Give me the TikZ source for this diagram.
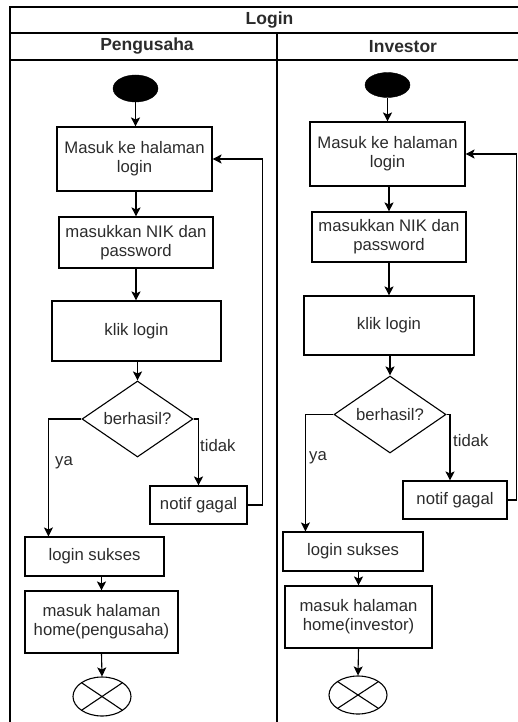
\documentclass[tikz,border=0pt]{standalone}
\usepackage{fontspec}
\setmainfont{Liberation Sans}
\usetikzlibrary{shapes.geometric,arrows.meta}

\definecolor{inkgray}{HTML}{2B2B2B}

\tikzset{
  base/.style={draw, line width=1.1pt, inner sep=0pt, align=center, text=inkgray,
    font=\fontsize{16.7}{19}\selectfont},
  act/.style={base, rectangle},
  decide/.style={base, diamond, aspect=1.45},
  startdot/.style={draw, fill=black, ellipse, inner sep=0pt},
  enddot/.style={draw, line width=1.1pt, ellipse, inner sep=0pt,
    path picture={\draw[line width=1.1pt]
      (path picture bounding box.north west) -- (path picture bounding box.south east)
      (path picture bounding box.north east) -- (path picture bounding box.south west);}},
  flow/.style={line width=1.1pt, -{Stealth[length=9pt,width=9pt,inset=2pt]}},
  lbl/.style={font=\fontsize{16.7}{19}\selectfont, text=inkgray, inner sep=0pt},
  head/.style={font=\bfseries\fontsize{17.5}{19}\selectfont, text=inkgray, inner sep=0pt},
  lane/.style={line width=1.4pt}
}

\begin{document}
\begin{tikzpicture}[x=1pt,y=-1pt]
  \useasboundingbox (0,0) rectangle (518,722);
  \clip (0,0) rectangle (518,722);

  % swimlane frame
  \draw[lane] (10,760) -- (10,7) -- (560,7);
  \draw[lane] (10,33) -- (560,33);
  \draw[lane] (10,60) -- (560,60);
  \draw[lane] (277,33) -- (277,760);
  \draw[lane] (529,7) -- (529,760);

  \node[head] (title) at (269.5,20) {Login};
  \node[head] (laneA) at (147,46.5) {Pengusaha};
  \node[head] (laneB) at (403,46.5) {Investor};

  % ---------- Pengusaha ----------
  \node[startdot, minimum width=45pt, minimum height=27pt] (sA) at (135.5,88.5) {};
  \node[act, minimum width=155pt, minimum height=64pt] (a1) at (134.5,159) {Masuk ke halaman\\login};
  \node[act, minimum width=154pt, minimum height=51pt] (a2) at (136,242.5) {masukkan NIK dan\\password};
  \node[act, minimum width=169pt, minimum height=60pt] (a3) at (136.5,331) {klik login};
  \node[decide, minimum width=111pt, minimum height=76pt] (dA) at (137.5,419) {berhasil?};
  \node[act, minimum width=97pt, minimum height=38pt] (nA) at (198.5,505) {notif gagal};
  \node[act, minimum width=139pt, minimum height=39pt] (okA) at (94.5,556.5) {login sukses};
  \node[act, minimum width=153pt, minimum height=62pt] (hA) at (101.5,622) {masuk halaman\\home(pengusaha)};
  \node[enddot, minimum width=58pt, minimum height=39pt] (eA) at (102,696.5) {};

  \draw[flow] (sA.south) -- (sA.south |- a1.north);
  \draw[flow] (a1.south -| a2.north) -- (a2.north);
  \draw[flow] (a2.south) -- (a2.south |- a3.north);
  \draw[flow] (a3.south -| dA.north) -- (dA.north);
  \draw[flow] (dA.east) -| (nA.north);
  \draw[flow] (dA.west) -| ([xshift=24pt]okA.north west);
  \draw[flow] (nA.east) -- ++(15,0) |- (a1.east);
  \draw[flow] (okA.south -| hA.north) -- (hA.north);
  \draw[flow] (hA.south) -- (eA.north);
  \node[lbl, anchor=west] (tA) at (200,446) {tidak};
  \node[lbl, anchor=west] (yA) at (55,463) {ya};

  % ---------- Investor ----------
  \node[startdot, minimum width=45pt, minimum height=25pt] (sB) at (387.5,85) {};
  \node[act, minimum width=155pt, minimum height=64pt] (b1) at (387.5,154) {Masuk ke halaman\\login};
  \node[act, minimum width=154pt, minimum height=50pt] (b2) at (389,237) {masukkan NIK dan\\password};
  \node[act, minimum width=170pt, minimum height=59pt] (b3) at (389,325.5) {klik login};
  \node[decide, minimum width=112pt, minimum height=77pt] (dB) at (390,414.5) {berhasil?};
  \node[act, minimum width=104pt, minimum height=38pt] (nB) at (455,500) {notif gagal};
  \node[act, minimum width=140pt, minimum height=39pt] (okB) at (353,551.5) {login sukses};
  \node[act, minimum width=147pt, minimum height=62pt] (hB) at (358.5,617) {masuk halaman\\home(investor)};
  \node[enddot, minimum width=58pt, minimum height=38pt] (eB) at (358,695) {};

  \draw[flow] (sB.south) -- (sB.south |- b1.north);
  \draw[flow] (b1.south -| b2.north) -- (b2.north);
  \draw[flow] (b2.south) -- (b2.south |- b3.north);
  \draw[flow] (b3.south -| dB.north) -- (dB.north);
  \draw[flow] (dB.east) -| ([xshift=-5pt]nB.north);
  \draw[flow] (dB.west) -| ([xshift=23pt]okB.north west);
  \draw[flow] (nB.east) -- ++(9,0) |- (b1.east);
  \draw[flow] (okB.south -| hB.north) -- (hB.north);
  \draw[flow] (hB.south) -- (eB.north);
  \node[lbl, anchor=west] (tB) at (453,441) {tidak};
  \node[lbl, anchor=west] (yB) at (309,458) {ya};
\end{tikzpicture}
\end{document}
